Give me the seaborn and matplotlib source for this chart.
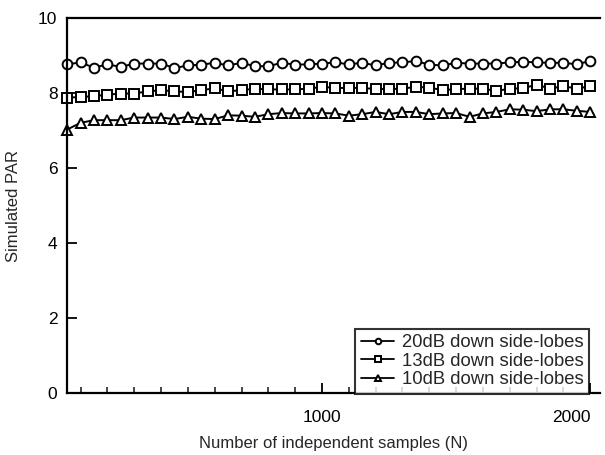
import numpy as np
import pandas as pd
import matplotlib
matplotlib.use("Agg")
import matplotlib.pyplot as plt
from matplotlib.ticker import MultipleLocator
import seaborn as sns

# Values
samples = list(range(50, 2001, 50))

par_20db = [8.77, 8.82, 8.68, 8.77, 8.70, 8.79, 8.79, 8.79, 8.67, 8.74,
            8.76, 8.81, 8.74, 8.81, 8.72, 8.72, 8.81, 8.76, 8.77, 8.79,
            8.82, 8.77, 8.81, 8.74, 8.81, 8.82, 8.86, 8.76, 8.74, 8.81,
            8.79, 8.79, 8.79, 8.82, 8.84, 8.82, 8.81, 8.81, 8.77, 8.86]

par_13db = [7.88, 7.90, 7.92, 7.96, 7.99, 7.99, 8.05, 8.08, 8.05, 8.03,
            8.08, 8.13, 8.05, 8.08, 8.12, 8.10, 8.10, 8.10, 8.12, 8.17,
            8.14, 8.14, 8.14, 8.11, 8.11, 8.12, 8.17, 8.15, 8.08, 8.11,
            8.12, 8.12, 8.06, 8.12, 8.13, 8.23, 8.12, 8.19, 8.12, 8.19]

par_10db = [7.03, 7.21, 7.28, 7.28, 7.28, 7.35, 7.35, 7.35, 7.31, 7.37,
            7.32, 7.31, 7.41, 7.40, 7.37, 7.44, 7.47, 7.46, 7.46, 7.47,
            7.46, 7.40, 7.44, 7.50, 7.44, 7.50, 7.50, 7.44, 7.46, 7.47,
            7.37, 7.46, 7.50, 7.57, 7.56, 7.52, 7.57, 7.57, 7.53, 7.50]

series_labels = ["20dB down side-lobes", "13dB down side-lobes", "10dB down side-lobes"]
series_markers = ["o", "s", "^"]

df = pd.DataFrame({
    "N": samples * 3,
    "PAR": par_20db + par_13db + par_10db,
    "series": sum([[lab] * len(samples) for lab in series_labels], []),
})

sns.set_theme(style="ticks")
plt.rcParams["font.family"] = ["Liberation Sans", "DejaVu Sans"]

fig = plt.figure(figsize=(6.05, 4.55), dpi=100)
ax = fig.add_axes([0.111, 0.136, 0.881, 0.824])

for lab, mk in zip(series_labels, series_markers):
    sub = df[df["series"] == lab]
    sns.lineplot(data=sub, x="N", y="PAR", ax=ax, color="black", linewidth=1.4,
                 marker=mk, markersize=7, markerfacecolor="white",
                 markeredgecolor="black", markeredgewidth=1.4, label=lab,
                 clip_on=False)

ax.set_xlim(50, 2037)
ax.set_ylim(0, 10)
ax.xaxis.set_minor_locator(MultipleLocator(100))
ax.yaxis.set_major_locator(MultipleLocator(2))
ax.set_xticks([1000, 2000])
ax.set_xticklabels(["1000", "2000"])
ax.get_xticklabels()[1].set_ha("right")

ax.tick_params(axis="both", which="major", direction="in", length=7, width=1.3,
               labelsize=12.5, colors="black")
ax.tick_params(axis="x", which="minor", direction="in", length=4, width=1.2)
ax.tick_params(axis="x", which="major", pad=12)
ax.tick_params(axis="y", which="major", pad=7)

for side in ["left", "bottom", "top"]:
    ax.spines[side].set_linewidth(1.6)
    ax.spines[side].set_color("black")
ax.spines["right"].set_visible(False)

ax.set_xlabel("Number of independent samples (N)", fontsize=12, labelpad=8)
ax.set_ylabel("Simulated PAR", fontsize=12, labelpad=12)

leg = ax.legend(loc="lower right", bbox_to_anchor=(0.979, -0.002), borderaxespad=0,
                frameon=True, fancybox=False, edgecolor="black", fontsize=13.3,
                handlelength=1.8, handletextpad=0.4, labelspacing=0.08,
                borderpad=0.3)
leg.get_frame().set_linewidth(1.5)
for h in leg.legend_handles:
    h.set_markersize(4)
    h.set_linewidth(1.3)

fig.savefig("out.png", dpi=100)
